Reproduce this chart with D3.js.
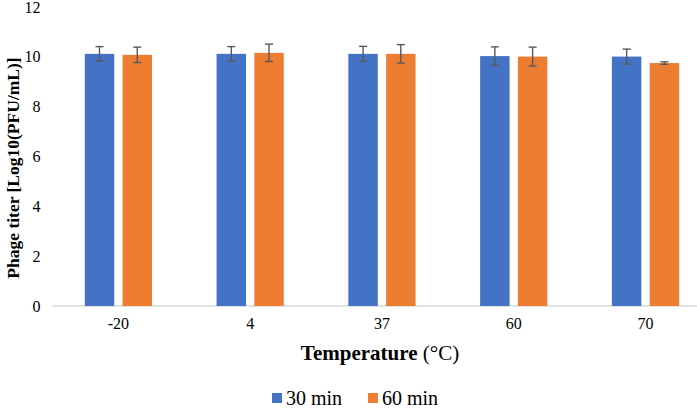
<!DOCTYPE html>
<html>
<head>
<meta charset="utf-8">
<script src="https://cdn.jsdelivr.net/npm/d3@7"></script>
<style>
  body { margin: 0; background: #fff; }
  svg text { font-family: 'Liberation Serif', 'Times New Roman', serif; fill: #000; }
</style>
</head>
<body>
<div id="chart"></div>
<script>
// data
const temps = ["-20", "4", "37", "60", "70"]
const seriesNames = ["30 min", "60 min"]
const min30 = [10.12, 10.12, 10.12, 10.03, 10.01]
const min60 = [10.08, 10.16, 10.12, 10.01, 9.75]
const err30 = [0.29, 0.29, 0.3, 0.37, 0.3]
const err60 = [0.31, 0.35, 0.37, 0.38, 0.05]
const yTicks = [0, 2, 4, 6, 8, 10, 12]
const colors = ["#4472c4", "#ed7d31"]

const serif = "'Liberation Serif', 'Times New Roman', serif"

const w = 697,
      h = 410,
      margin = {top: 7, left: 52.5},
      plotRight = 711.4,  // the plot runs past the right edge of the picture
      x0 = d3.scaleBand()
        .domain(temps)
        .range([margin.left, plotRight])
        .paddingInner(0.49)
        .paddingOuter(0.245),
      x1 = d3.scaleBand()
        .domain(seriesNames)
        .range([0, x0.bandwidth()])
        .paddingInner(0.22),
      y = d3.scaleLinear()
        .domain([0, 12])
        .range([306, margin.top]),
      color = d3.scaleOrdinal().domain(seriesNames).range(colors)

const rows = temps.map((t, i) => ({
  temp: t,
  vals: [
    {name: seriesNames[0], v: min30[i], e: err30[i]},
    {name: seriesNames[1], v: min60[i], e: err60[i]}
  ]
}))

const svg = d3.select("#chart").append("svg")
  .attr("width", w)
  .attr("height", h)
  .attr("font-family", serif)

// y axis tick labels (no line)
svg.append("g")
  .attr("transform", `translate(${margin.left}, 0)`)
  .call(d3.axisLeft(y).tickValues(yTicks).tickSize(0).tickPadding(12))
  .attr("font-family", serif)
  .attr("font-size", 16)
  .call(g => g.select(".domain").remove())

// baseline
svg.append("line")
  .attr("x1", margin.left)
  .attr("x2", w)
  .attr("y1", y(0))
  .attr("y2", y(0))
  .attr("stroke", "#d9d9d9")
  .attr("stroke-width", 1.3)

const groups = svg.append("g")
  .selectAll("g")
  .data(rows)
  .join("g")
  .attr("transform", d => `translate(${x0(d.temp)}, 0)`)

groups.selectAll("rect")
  .data(d => d.vals)
  .join("rect")
  .attr("x", d => x1(d.name))
  .attr("y", d => y(d.v))
  .attr("width", x1.bandwidth())
  .attr("height", d => y(0) - y(d.v))
  .attr("fill", d => color(d.name))

// error bars
const eb = groups.selectAll("g.err")
  .data(d => d.vals)
  .join("g")
  .attr("class", "err")
  .attr("stroke", "#595959")
  .attr("stroke-width", 1.4)

eb.append("line")
  .attr("x1", d => x1(d.name) + x1.bandwidth() / 2)
  .attr("x2", d => x1(d.name) + x1.bandwidth() / 2)
  .attr("y1", d => y(d.v + d.e))
  .attr("y2", d => y(d.v - d.e))

eb.selectAll("line.cap")
  .data(d => [d.v + d.e, d.v - d.e].map(v => ({name: d.name, v: v})))
  .join("line")
  .attr("class", "cap")
  .attr("x1", d => x1(d.name) + x1.bandwidth() / 2 - 4)
  .attr("x2", d => x1(d.name) + x1.bandwidth() / 2 + 4)
  .attr("y1", d => y(d.v))
  .attr("y2", d => y(d.v))

// x tick labels
svg.append("g")
  .attr("transform", `translate(0, ${y(0)})`)
  .call(d3.axisBottom(x0).tickSize(0).tickPadding(12))
  .attr("font-family", serif)
  .attr("font-size", 16)
  .call(g => g.select(".domain").remove())

// axis titles
const xt = svg.append("text")
  .attr("x", 380)
  .attr("y", 360)
  .attr("text-anchor", "middle")
  .attr("font-size", 21)
xt.append("tspan").attr("font-weight", "bold").text("Temperature")
xt.append("tspan").text(" (°C)")

svg.append("text")
  .attr("transform", "translate(19, 168) rotate(-90)")
  .attr("text-anchor", "middle")
  .attr("font-weight", "bold")
  .attr("font-size", 17.5)
  .text("Phage titer [Log10(PFU/mL)]")

// legend
const legendX = [272, 368]
const legend = svg.append("g")
  .selectAll("g")
  .data(seriesNames)
  .join("g")
  .attr("transform", (d, i) => `translate(${legendX[i]}, 398)`)

legend.append("rect")
  .attr("x", 0)
  .attr("y", -5)
  .attr("width", 10)
  .attr("height", 10)
  .attr("fill", d => color(d))

legend.append("text")
  .attr("x", 14)
  .attr("y", 7)
  .attr("font-size", 20)
  .text(d => d)
</script>
</body>
</html>
